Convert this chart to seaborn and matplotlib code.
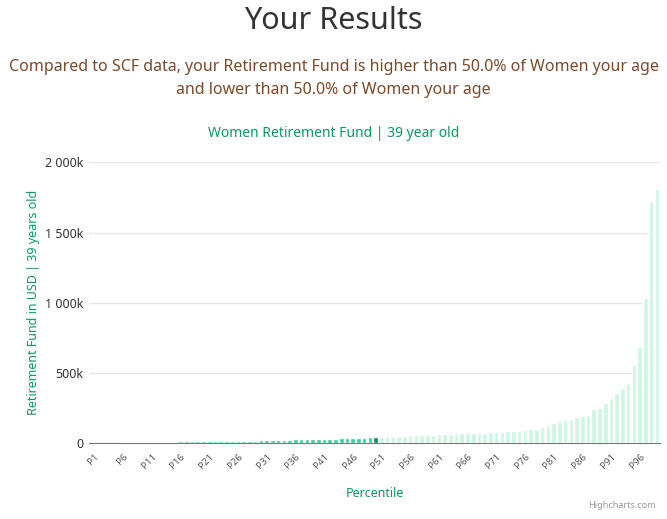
import numpy as np
import pandas as pd
import seaborn as sns
import matplotlib.pyplot as plt
from matplotlib.ticker import FuncFormatter

percentiles = [f"P{i}" for i in range(1, 100)]
values_k = [0, 0, 0, 0, 0, 2, 2, 3, 3, 3,
            4, 4, 4, 5, 7, 9, 9, 9, 9, 10,
            10, 10, 11, 14, 15, 15, 15, 15, 15, 16,
            19, 20, 20, 20, 22, 24, 24, 24, 26, 26,
            30, 30, 30, 32, 35, 36, 36, 36, 38, 40,
            42, 45, 48, 48, 50, 52, 52, 55, 58, 58,
            62, 64, 64, 66, 68, 68, 70, 72, 72, 74,
            78, 78, 80, 80, 82, 90, 95, 100, 110, 118,
            140, 150, 160, 170, 180, 190, 200, 240, 249, 285,
            320, 356, 391, 427, 555, 683, 1032, 1722, 1808]
user_index = 49  # P50

green = "#0a9a60"
df = pd.DataFrame({"pct": percentiles, "val": np.array(values_k) * 1000})
df["group"] = ["below" if i < user_index else ("you" if i == user_index else "above")
               for i in range(len(df))]
palette = {"below": "#2fd39a", "you": "#0a8a57", "above": "#cdf7e2"}

sns.set_style("white")
plt.rcParams['font.family'] = ['Noto Sans', 'DejaVu Sans']

fig = plt.figure(figsize=(6.67, 5.19), dpi=100)
ax = fig.add_axes([0.133, 0.147, 0.857, 0.54])
sns.barplot(data=df, x="pct", y="val", hue="group", palette=palette, dodge=False,
            legend=False, width=0.8, ax=ax, saturation=1)

ax.set_ylim(0, 2000000)
ax.set_yticks([0, 500000, 1000000, 1500000, 2000000])
ax.yaxis.set_major_formatter(FuncFormatter(
    lambda v, p: "0" if v == 0 else f"{int(v/1000):,}k".replace(",", " ")))
ax.grid(axis="y", color="#e6e6e6", linewidth=1)
ax.set_axisbelow(True)
for s in ["top", "right", "left"]:
    ax.spines[s].set_visible(False)
ax.spines["bottom"].set_color("#777777")
ax.tick_params(axis="y", length=0, labelsize=9, colors="#333333")
ax.set_xticks(range(0, 99, 5))
ax.set_xticklabels(percentiles[::5], rotation=45, ha="right", fontsize=7, color="#555555",
                   rotation_mode="anchor")
ax.tick_params(axis="x", length=3, color="#777777")
ax.set_xlim(-1, 98.6)
ax.set_xlabel("Percentile", color=green, fontsize=9, labelpad=12)
ax.set_ylabel("Retirement Fund in USD | 39 years old", color=green, fontsize=9)

fig.text(0.5, 0.96, "Your Results", ha="center", va="center", fontsize=22,
         fontweight="bold", color="#333333")
fig.text(0.5, 0.848, "Compared to SCF data, your Retirement Fund is higher than 50.0% of Women your age\n"
         "and lower than 50.0% of Women your age", ha="center", va="center",
         fontsize=11.5, color="#7a4a2a", linespacing=1.6)
fig.text(0.5, 0.742, "Women Retirement Fund | 39 year old", ha="center", va="center",
         fontsize=10, fontweight="bold", color=green)
fig.text(0.983, 0.018, "Highcharts.com", ha="right", va="bottom", fontsize=6.5, color="#999999")

fig.savefig("out.png", dpi=100)
